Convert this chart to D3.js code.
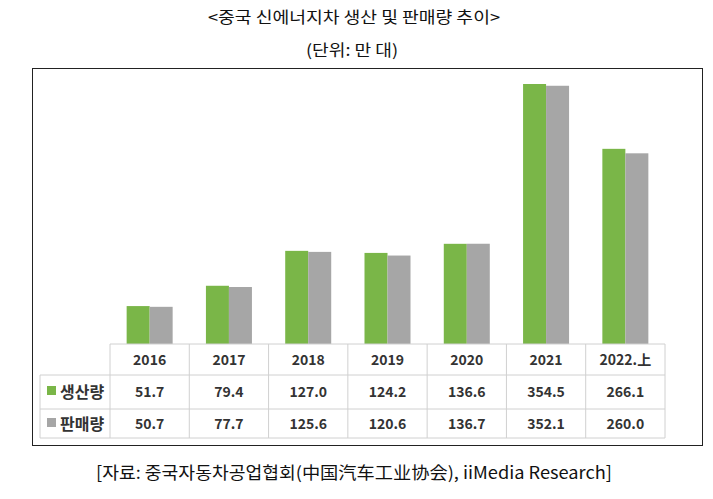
<!DOCTYPE html>
<html><head><meta charset="utf-8">
<script src="https://cdn.jsdelivr.net/npm/d3@7"></script>
<style>body{margin:0;background:#fff;font-family:"Noto Sans CJK KR",sans-serif;}</style>
</head><body>
<svg id="c" width="713" height="499"></svg>
<script>
const categories=["2016","2017","2018","2019","2020","2021","2022.上"];
const production=[51.7,79.4,127.0,124.2,136.6,354.5,266.1];
const sales=[50.7,77.7,125.6,120.6,136.7,352.1,260.0];
const seriesNames=["생산량","판매량"];
const colors=["#7ab648","#a6a6a6"];
const svg=d3.select("#c");
const txt="#333";
svg.append("text").attr("x",354).attr("y",23).attr("text-anchor","middle").attr("font-size",16).attr("textLength",292).attr("lengthAdjust","spacingAndGlyphs").attr("fill","#111").text("<중국 신에너지차 생산 및 판매량 추이>");
svg.append("text").attr("x",352).attr("y",56).attr("text-anchor","middle").attr("font-size",16).attr("textLength",92).attr("lengthAdjust","spacingAndGlyphs").attr("fill","#111").text("(단위: 만 대)");
svg.append("rect").attr("x",32.5).attr("y",68.5).attr("width",670).attr("height",377).attr("fill","none").attr("stroke","#222").attr("stroke-width",1);
const x=d3.scaleBand().domain(categories).range([110,665]);
const y=d3.scaleLinear().domain([0,354.5]).range([344,84]);
const bw=23;
const g=svg.append("g");
[production,sales].forEach((vals,si)=>{
  g.selectAll(null).data(vals).enter().append("rect")
   .attr("x",(d,i)=>x(categories[i])+x.bandwidth()/2-bw+si*bw)
   .attr("y",d=>y(d)).attr("width",bw).attr("height",d=>y(0)-y(d)).attr("fill",colors[si]);
});
const rows=[344,375,409,438];
const lc="#d0d0d0";
const t=svg.append("g").attr("stroke",lc).attr("stroke-width",1);
t.append("line").attr("x1",110).attr("x2",665).attr("y1",rows[0]).attr("y2",rows[0]);
[1,2,3].forEach(k=>t.append("line").attr("x1",40).attr("x2",665).attr("y1",rows[k]).attr("y2",rows[k]));
t.append("line").attr("x1",40).attr("x2",40).attr("y1",rows[1]).attr("y2",rows[3]);
categories.forEach(c=>t.append("line").attr("x1",x(c)).attr("x2",x(c)).attr("y1",rows[0]).attr("y2",rows[3]));
t.append("line").attr("x1",665).attr("x2",665).attr("y1",rows[0]).attr("y2",rows[3]);
const cx=c=>x(c)+x.bandwidth()/2;
svg.selectAll(null).data(categories).enter().append("text").attr("x",cx).attr("y",365).attr("text-anchor","middle")
 .attr("font-size",14).attr("font-weight","bold").attr("fill",txt).text(d=>d);
[production,sales].forEach((vals,si)=>{
  const yy=si?429:397;
  svg.selectAll(null).data(vals).enter().append("text").attr("x",(d,i)=>cx(categories[i])).attr("y",yy).attr("text-anchor","middle")
   .attr("font-size",14).attr("font-weight","bold").attr("fill",txt).text(d=>d.toFixed(1));
  svg.append("rect").attr("x",47).attr("y",yy-11).attr("width",9).attr("height",9).attr("fill",colors[si]);
  svg.append("text").attr("x",60).attr("y",yy+1).attr("font-size",16).attr("font-weight","bold").attr("fill",txt).text(seriesNames[si]);
});
svg.append("text").attr("x",354).attr("y",479).attr("text-anchor","middle").attr("font-size",17).attr("textLength",516).attr("lengthAdjust","spacingAndGlyphs").attr("fill","#111").text("[자료: 중국자동차공업협회(中国汽车工业协会), iiMedia Research]");
</script>
</body></html>
